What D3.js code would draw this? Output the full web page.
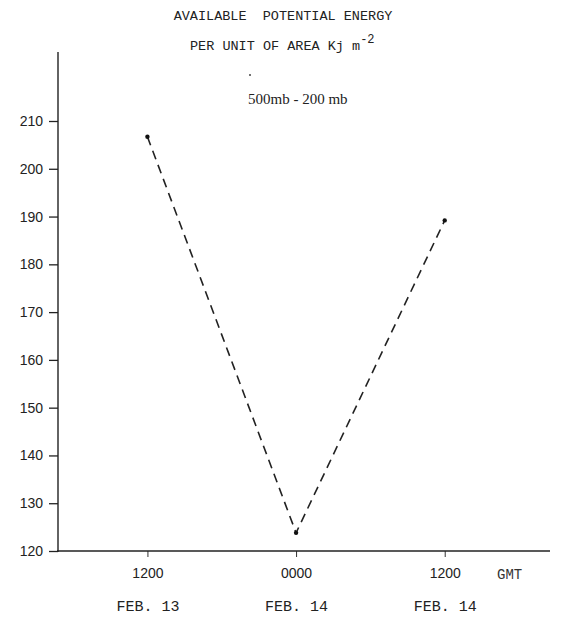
<!DOCTYPE html>
<html><head><meta charset="utf-8">
<script src="https://cdn.jsdelivr.net/npm/d3@7"></script>
<style>body{margin:0;background:#fff}</style>
</head><body>
<svg id="c" width="563" height="617"></svg>
<script>
// Data
const hours = [0, 12, 24];                 // hours after 1200 GMT Feb 13
const timeLabels = ["1200", "0000", "1200"];
const dateLabels = ["FEB. 13", "FEB. 14", "FEB. 14"];
const energy = [206.7, 123.8, 189.2];      // Kj m^-2
const yTicks = [120, 130, 140, 150, 160, 170, 180, 190, 200, 210];

const svg = d3.select("#c");
const x = d3.scaleLinear().domain([-7.3, 32.5]).range([57, 550]);
const y = d3.scaleLinear().domain([120, 210]).range([551, 121]);

// Y axis
const yAxis = d3.axisLeft(y).tickValues(yTicks).tickSize(9).tickPadding(6).tickFormat(d3.format("d"));
const gy = svg.append("g").attr("transform", "translate(58,0)").call(yAxis);
gy.select(".domain").remove();
gy.append("line").attr("x1", 0).attr("x2", 0).attr("y1", 52).attr("y2", 552)
  .attr("stroke", "#222").attr("stroke-width", 1.4);
gy.selectAll(".tick line").attr("stroke", "#222").attr("stroke-width", 1.3);
gy.selectAll(".tick text").attr("fill", "#222")
  .style("font-family", "'Liberation Sans', Arial, sans-serif").style("font-size", "14px");

// X axis
const xAxis = d3.axisBottom(x).tickValues(hours).tickSize(6).tickPadding(11)
  .tickFormat((d, i) => timeLabels[i]);
const gx = svg.append("g").attr("transform", "translate(0,551)").call(xAxis);
gx.select(".domain").remove();
gx.append("line").attr("x1", 57).attr("x2", 550).attr("y1", 0).attr("y2", 0)
  .attr("stroke", "#222").attr("stroke-width", 1.4);
gx.selectAll(".tick line").attr("stroke", "#333").attr("stroke-width", 1);
gx.selectAll(".tick text").attr("fill", "#222")
  .style("font-family", "'Liberation Sans', Arial, sans-serif").style("font-size", "14px");
gx.selectAll(".tick").append("text")
  .attr("y", 60).attr("fill", "#222").attr("text-anchor", "middle")
  .style("font-family", "'Liberation Mono', 'DejaVu Sans Mono', monospace").style("font-size", "15px")
  .text((d, i) => dateLabels[i]);
svg.append("text").attr("x", 497).attr("y", 579).attr("fill", "#333")
  .style("font-family", "'Liberation Mono', monospace").style("font-size", "14px").text("GMT");

// Line
const pts = hours.map((h, i) => [h, energy[i]]);
svg.append("path").datum(pts)
  .attr("d", d3.line().x(d => x(d[0])).y(d => y(d[1])))
  .attr("fill", "none").attr("stroke", "#222").attr("stroke-width", 1.6)
  .attr("stroke-dasharray", "9,6");
svg.selectAll("circle.pt").data(pts).join("circle").attr("class", "pt")
  .attr("cx", d => x(d[0])).attr("cy", d => y(d[1])).attr("r", 2.2).attr("fill", "#111");

// Titles
const mono = "'Liberation Mono', 'DejaVu Sans Mono', monospace";
svg.append("text").attr("x", 283).attr("y", 20).attr("text-anchor", "middle")
  .style("font-family", mono).style("font-size", "13.5px").style("white-space", "pre").attr("fill", "#222")
  .text("AVAILABLE  POTENTIAL ENERGY");
const t2 = svg.append("text").attr("x", 190).attr("y", 50)
  .style("font-family", mono).style("font-size", "13.5px").attr("fill", "#222");
t2.append("tspan").text("PER UNIT OF AREA Kj m");
t2.append("tspan").attr("dy", -7).style("font-size", "12px").text("-2");
svg.append("circle").attr("cx", 250).attr("cy", 75).attr("r", 1).attr("fill", "#444");
svg.append("text").attr("x", 248).attr("y", 104)
  .style("font-family", "'Liberation Serif', serif").style("font-size", "15px").attr("fill", "#222")
  .text("500mb - 200 mb");
</script>
</body></html>
